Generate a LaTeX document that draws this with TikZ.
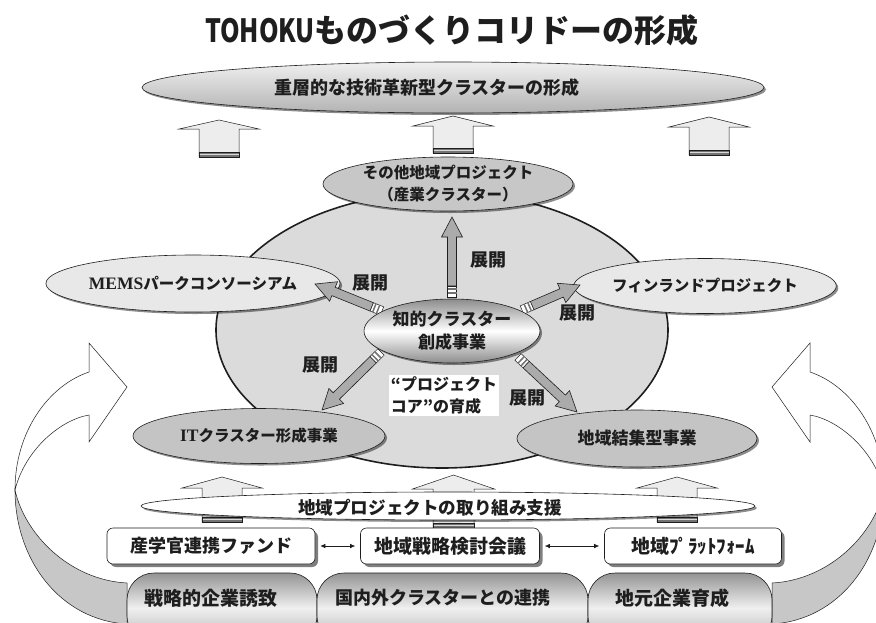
\documentclass[tikz,border=0pt]{standalone}
\usepackage{graphicx}
\usepackage{fontspec}
\setmainfont{Noto Sans CJK JP}
\newfontfamily\tms{Liberation Serif}
\usetikzlibrary{shapes.geometric,shapes.misc,shadows,arrows.meta,calc}
\definecolor{ink}{HTML}{1E1E1E}
\tikzset{
  ell/.style={ellipse, draw=ink, line width=0.6pt, inner sep=0pt,
    drop shadow={shadow xshift=2pt, shadow yshift=-2pt, fill=black, opacity=0.45}},
  txt/.style={text=ink, font=\fontsize{18}{20}\selectfont\bfseries},
  smalltxt/.style={text=ink, font=\fontsize{15.5}{22}\selectfont\bfseries},
  blockfill/.style={fill=black!7, draw=ink, line width=0.5pt},
  fatbody/.style={fill=black!33, draw=ink, line width=0.6pt},
  sidewhite/.style={fill=white, draw=ink, line width=0.5pt},
  sidegray/.style={fill=black!22, draw=ink, line width=0.5pt},
  boxnode/.style={rectangle, rounded corners=6pt, draw=ink, line width=0.6pt, fill=white,
    minimum height=36, inner sep=0pt,
    drop shadow={shadow xshift=3pt, shadow yshift=-3pt, fill=black, opacity=0.5}},
  pillnode/.style={rectangle, rounded corners=27pt, draw=ink, line width=0.6pt,
    minimum height=70, inner sep=0pt, top color=black!42, bottom color=black!30, middle color=black!6},
  dblarr/.style={draw=ink, line width=0.6pt, {Latex[length=5pt,width=4.5pt]}-{Latex[length=5pt,width=4.5pt]},
    shorten >=5pt, shorten <=5pt}
}
% block up arrow: cx, tip y, head base y, bottom y, head half, shaft half
\newcommand\blockarrow[6]{%
  \filldraw[blockfill] (#1-#6,#4) -- (#1-#6,#3) -- (#1-#5,#3) -- (#1,#2) -- (#1+#5,#3) -- (#1+#6,#3) -- (#1+#6,#4) -- cycle;
  \filldraw[fill=black!55, draw=ink, line width=0.5pt] (#1-#6,#4-5) rectangle (#1+#6,#4);
  \draw[black!15, line width=0.8pt] (#1-#6+0.5,#4-2.5) -- (#1+#6-0.5,#4-2.5);
}
% fat gray arrow between two named coordinates
\newcommand\fatarrow[2]{%
  \path let \p1=($(#2)-(#1)$), \n1={atan2(\y1,\x1)}, \n2={veclen(\x1,\y1)} in
    \pgfextra{\xdef\fatang{\n1}\xdef\fatlen{\n2}};
  \begin{scope}[shift={(#1)}, rotate=\fatang]
    \filldraw[fatbody] (11,-4.5) -- (\fatlen-20,-4.5) -- (\fatlen-20,-10.5) -- (\fatlen,0)
      -- (\fatlen-20,10.5) -- (\fatlen-20,4.5) -- (11,4.5) -- cycle;
    \filldraw[fill=white, draw=ink, line width=0.5pt] (0,-4.5) rectangle (11,4.5);
    \fill[black!55] (3.5,-4.5) rectangle (5,4.5);
    \fill[black!55] (7.5,-4.5) rectangle (9,4.5);
  \end{scope}
}
\newcommand\sidearrow{%
  \path[sidegray] (15,490) .. controls (15,560) and (60,620) .. (127,624) -- (127,583)
    .. controls (70,580) and (25,535) .. (15,490) -- cycle;
  \path[sidewhite] (89,372) .. controls (50,385) and (15,430) .. (15,490)
    .. controls (25,450) and (60,420) .. (89,415) -- (89,442) -- (127,387) -- (89,343) -- cycle;
}
\begin{document}
\begin{tikzpicture}[x=1pt,y=-1pt]
\useasboundingbox (0,0) rectangle (876,622);
\clip (0,0) rectangle (876,622);
\fill[white] (0,0) rectangle (876,622);

% side curved arrows
\sidearrow
\begin{scope}[shift={(899,0)}, xscale=-1]
  \sidearrow
\end{scope}

% title
\node (title) [text=ink, font=\fontsize{32}{34}\selectfont\bfseries] at (452,30)
  {\scalebox{0.78}[1]{TOHOKU}ものづくりコリドーの形成};

% top ellipse
\node (top) [ell, minimum width=622, minimum height=51, top color=black!6, bottom color=black!30] at (453,87.5) {};
\node (toptext) [txt] at (427,88) {重層的な技術革新型クラスターの形成};

% three upper block arrows
\blockarrow{219}{120}{129}{157}{40}{20}
\blockarrow{453}{116}{126}{153}{40}{20}
\blockarrow{709}{117}{127}{155}{40}{20}

% big ellipse
\node (core) [ellipse, draw=ink, line width=1.6pt, fill=black!14, minimum width=452, minimum height=276] at (442,330) {};

% outer ellipses
\node (other) [ell, fill=black!22, minimum width=250, minimum height=54, align=center, smalltxt] at (448,184)
  {その他地域プロジェクト\\（産業クラスター）};
\node (mems) [ell, fill=black!9, minimum width=258, minimum height=57, smalltxt] at (193,283.5)
  {{\tms\bfseries\fontsize{17.5}{20}\selectfont MEMS}パークコンソーシアム};
\node (fin) [ell, fill=black!9, minimum width=246, minimum height=55, smalltxt] at (705,286)
  {フィンランドプロジェクト};
\node (it) [ell, fill=black!23, minimum width=252, minimum height=55, smalltxt] at (259,436)
  {{\tms\bfseries\fontsize{17.5}{20}\selectfont IT}クラスター形成事業};
\node (reg) [ell, fill=black!23, minimum width=240, minimum height=57, text=ink, font=\fontsize{17}{20}\selectfont\bfseries] at (637,438.5)
  {地域結集型事業};

% fat arrows
\coordinate (a1) at (452,297); \coordinate (b1) at (452,217);
\coordinate (a2) at (382,311); \coordinate (b2) at (315,284);
\coordinate (a3) at (522,310); \coordinate (b3) at (580,285);
\coordinate (a4) at (381,352); \coordinate (b4) at (322,410);
\coordinate (a5) at (518,357); \coordinate (b5) at (577,412);
\fatarrow{a1}{b1}
\fatarrow{a2}{b2}
\fatarrow{a3}{b3}
\fatarrow{a4}{b4}
\fatarrow{a5}{b5}

% centre ellipse
\node (chi) [ell, minimum width=176, minimum height=64, top color=black!45, bottom color=black!45, middle color=white,
  align=center, text=ink, font=\fontsize{17}{23}\selectfont\bfseries] at (452,331)
  {知的クラスター\\創成事業};

% labels
\node (l1) [txt] at (488,260) {展開};
\node (l2) [txt] at (370,283) {展開};
\node (l3) [txt] at (577,313) {展開};
\node (l4) [txt] at (320,365) {展開};
\node (l5) [txt] at (527,398) {展開};
\node (pc) [fill=white, inner sep=2pt, align=left, text=ink, font=\fontsize{16}{22}\selectfont\bfseries] at (444,395.5)
  {“プロジェクト\\コア”の育成};

% lower block arrows and band
\blockarrow{222}{477}{488}{522}{40}{20}
\blockarrow{453.5}{475}{489}{528}{41}{20.5}
\blockarrow{677}{477}{488}{522}{40}{20}
\node (band) [ell, fill=white, minimum width=614, minimum height=28] at (448,506) {};
\node (bandtext) [txt, font=\fontsize{17.6}{20}\selectfont\bfseries] at (430,508) {地域プロジェクトの取り組み支援};

% boxes
\node (fund) [boxnode, minimum width=208, txt] at (211,546) {産学官連携ファンド};
\node (council) [boxnode, minimum width=179, text=ink, font=\fontsize{19}{21}\selectfont\bfseries] at (450,546) {地域戦略検討会議};
\node (plat) [boxnode, minimum width=177, text=ink, font=\fontsize{19}{21}\selectfont\bfseries] at (693,546) {地域ﾌﾟﾗｯﾄﾌｫｰﾑ};
\draw[dblarr] (fund) -- (council);
\draw[dblarr] (council) -- (plat);

% pills
\node (p1) [pillnode, minimum width=190] at (222,608) {};
\node (p2) [pillnode, minimum width=271] at (452.5,608) {};
\node (p3) [pillnode, minimum width=184] at (680,608) {};
\node (p1t) [text=ink, font=\fontsize{19}{21}\selectfont\bfseries] at (211,598) {戦略的企業誘致};
\node (p2t) [txt] at (443,598) {国内外クラスターとの連携};
\node (p3t) [text=ink, font=\fontsize{19}{21}\selectfont\bfseries] at (672,598) {地元企業育成};
\end{tikzpicture}
\end{document}
